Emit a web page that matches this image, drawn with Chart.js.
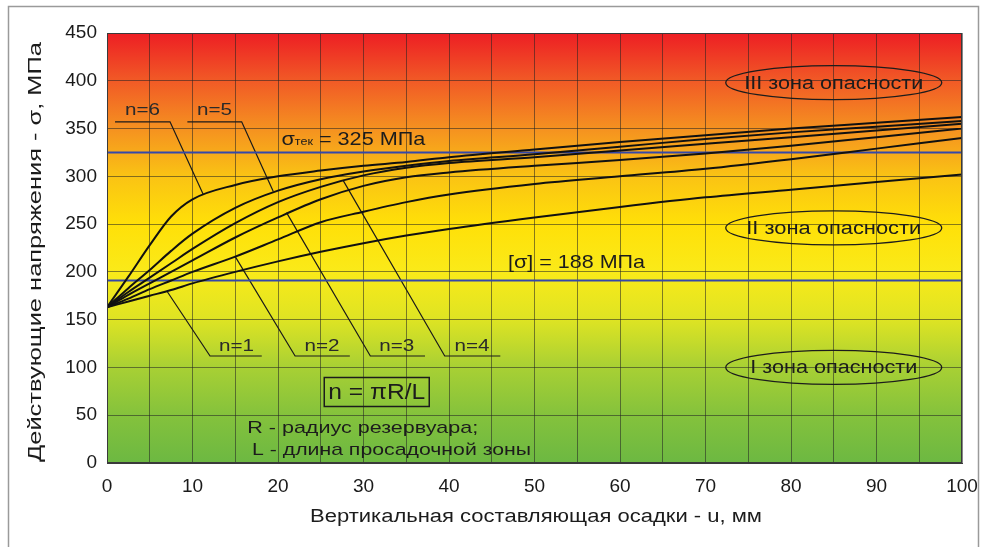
<!DOCTYPE html>
<html lang="ru">
<head>
<meta charset="UTF-8">
<title>Действующие напряжения</title>
<script src="https://cdn.jsdelivr.net/npm/chart.js@4.4.1/dist/chart.umd.min.js"></script>
<style>
  html, body { margin: 0; padding: 0; background: #fff; }
  canvas { display: block; }
</style>
</head>
<body>
<canvas id="myChart" width="982" height="547"></canvas>
<script>
// vertical settlement u, mm
const settlement = [0, 2.5, 5, 7.5, 10, 15, 20, 25, 30, 35, 40, 50, 60, 70, 80, 90, 100];
// acting stress, MPa, one curve per n = piR/L
const stressN1 = [163, 169, 175, 181, 188, 200, 211, 221, 230, 238, 245, 257, 268, 278, 286, 294, 302];
const stressN2 = [163, 172, 182, 191, 200, 216, 234, 252, 263, 273, 281, 292, 300, 308, 318, 329, 340];
const stressN3 = [163, 176, 188, 200, 212, 236, 257, 276, 290, 299, 304, 311, 317, 324, 332, 341, 350];
const stressN4 = [163, 179, 194, 209, 224, 251, 273, 289, 301, 309, 314, 320, 327, 334, 341, 348, 355];
const stressN5 = [163, 183, 202, 222, 240, 267, 285, 297, 305, 311, 316, 323, 331, 339, 346, 352, 358];
const stressN6 = [163, 195, 228, 258, 276, 291, 300, 306, 311, 315, 320, 328, 336, 343, 350, 356, 362];
const curveNames = ['n=1', 'n=2', 'n=3', 'n=4', 'n=5', 'n=6'];

const yieldStress = 325;   // sigma tek
const allowedStress = 191; // [sigma] line as drawn

// leader lines from each label to its curve, [u, sigma]
const leaderN1 = [[7.0, 180], [12.05, 112], [18.1, 112]];
const leaderN2 = [[15.0, 216], [22.0, 112], [28.4, 112]];
const leaderN3 = [[21.0, 262], [30.8, 112], [37.2, 112]];
const leaderN4 = [[27.6, 296], [39.5, 112], [46.0, 112]];
const leaderN5 = [[19.45, 284], [15.75, 357], [9.4, 357]];
const leaderN6 = [[11.26, 281], [7.37, 357], [0.94, 357]];
const labelSpots = [[15.15, 122], [25.15, 122], [33.9, 122], [42.7, 122], [12.57, 369], [4.15, 369]];

const zoneNames = ['III зона опасности', 'II зона опасности', 'I зона опасности'];
const zoneSpots = [[85, 398], [85, 246], [85, 100]];

const FONT = '"Liberation Sans", Arial, sans-serif';

function say(ctx, str, x, y, size, w, align) {
  ctx.save();
  ctx.font = size + 'px ' + FONT;
  ctx.textBaseline = 'middle';
  ctx.textAlign = align || 'center';
  const sx = w ? w / ctx.measureText(str).width : 1;
  ctx.translate(x, y);
  ctx.scale(sx, 1);
  ctx.fillText(str, 0, 0);
  ctx.restore();
}

// draw pieces [text, size] on one baseline, stretched to width w
function sayParts(ctx, parts, x, y, w) {
  ctx.save();
  ctx.textBaseline = 'alphabetic';
  ctx.textAlign = 'left';
  let total = 0;
  parts.forEach(p => { ctx.font = p[1] + 'px ' + FONT; total += ctx.measureText(p[0]).width; });
  ctx.translate(x, y);
  ctx.scale(w / total, 1);
  let cx = 0;
  parts.forEach(p => {
    ctx.font = p[1] + 'px ' + FONT;
    ctx.fillText(p[0], cx, 0);
    cx += ctx.measureText(p[0]).width;
  });
  ctx.restore();
}

const bgStops = [
  [450, 'rgb(237,30,36)'], [400, 'rgb(241,90,38)'], [350, 'rgb(245,145,32)'],
  [300, 'rgb(250,195,20)'], [250, 'rgb(255,224,8)'], [200, 'rgb(250,234,25)'],
  [150, 'rgb(222,228,35)'], [100, 'rgb(168,208,52)'], [50, 'rgb(132,194,60)'], [0, 'rgb(108,184,66)']
];

const decor = {
  id: 'decor',
  beforeDraw(chart) {
    const { ctx, chartArea: a, scales: { y } } = chart;
    const g = ctx.createLinearGradient(0, a.top, 0, a.bottom);
    bgStops.forEach(([v, c]) => g.addColorStop((y.getPixelForValue(v) - a.top) / (a.bottom - a.top), c));
    ctx.save();
    ctx.fillStyle = '#fff';
    ctx.fillRect(0, 0, chart.width, chart.height);
    ctx.fillStyle = g;
    ctx.fillRect(a.left, a.top, a.width, a.height);
    ctx.restore();
  },
  afterDraw(chart) {
    const { ctx, chartArea: a, scales: { x, y } } = chart;
    ctx.save();
    ctx.strokeStyle = '#3a3a3a';
    ctx.lineWidth = 1;
    ctx.strokeRect(a.left + 0.5, a.top + 0.5, a.width - 1, a.height - 1);
    ctx.strokeStyle = '#9a9a9a';
    ctx.lineWidth = 1.5;
    ctx.strokeRect(8.5, 6.5, 970, 560);

    ctx.fillStyle = '#1c1c1c';
    // axis titles
    say(ctx, 'Вертикальная составляющая осадки - u, мм', 536, 517, 18, 452);
    ctx.save();
    ctx.translate(36, 252);
    ctx.rotate(-Math.PI / 2);
    say(ctx, 'Действующие напряжения - σ, МПа', 0, 0, 18, 420);
    ctx.restore();

    // zones
    ctx.strokeStyle = '#1c1c1c';
    ctx.lineWidth = 1.3;
    const zoneW = [179, 175, 167];
    zoneSpots.forEach((s, i) => {
      const cx = x.getPixelForValue(s[0]), cy = y.getPixelForValue(s[1]);
      ctx.beginPath();
      ctx.ellipse(cx, cy, 108, 17, 0, 0, Math.PI * 2);
      ctx.stroke();
      say(ctx, zoneNames[i], cx, cy + 1, 18, zoneW[i]);
    });

    // curve labels
    ctx.fillStyle = '#2a2a2a';
    labelSpots.forEach((s, i) => {
      say(ctx, curveNames[i], x.getPixelForValue(s[0]), y.getPixelForValue(s[1]), 17, 35);
    });

    // stress limits
    ctx.fillStyle = '#1c1c1c';
    sayParts(ctx, [['σ', 19], ['тек', 11], [' = ' + yieldStress + ' МПа', 19]],
      x.getPixelForValue(20.4), y.getPixelForValue(332.8), 144);
    sayParts(ctx, [['[σ] = 188 МПа', 19]],
      x.getPixelForValue(46.9), y.getPixelForValue(203.7), 137);

    // formula
    const fx = x.getPixelForValue(31.55), fy = y.getPixelForValue(74.3);
    ctx.lineWidth = 1.5;
    ctx.strokeRect(fx - 52.5, fy - 14.5, 105, 29);
    say(ctx, 'n = πR/L', fx, fy + 1, 22, 97);
    say(ctx, 'R - радиус резервуара;', x.getPixelForValue(16.4), y.getPixelForValue(36.6), 17, 231, 'left');
    say(ctx, 'L - длина просадочной зоны', x.getPixelForValue(16.96), y.getPixelForValue(13.6), 17, 279, 'left');
    ctx.restore();
  }
};

const curves = [stressN1, stressN2, stressN3, stressN4, stressN5, stressN6].map((arr, i) => ({
  label: curveNames[i],
  data: settlement.map((u, k) => ({ x: u, y: arr[k] })),
  borderColor: '#111',
  borderWidth: 2,
  cubicInterpolationMode: 'monotone',
  pointRadius: 0
}));

const refLines = [yieldStress, allowedStress].map(v => ({
  label: 'limit ' + v,
  data: [{ x: 0, y: v }, { x: 100, y: v }],
  borderColor: 'rgb(52,72,170)',
  borderWidth: 2,
  pointRadius: 0
}));

const leaders = [leaderN1, leaderN2, leaderN3, leaderN4, leaderN5, leaderN6].map((pts, i) => ({
  label: 'leader ' + curveNames[i],
  data: pts.map(p => ({ x: p[0], y: p[1] })),
  borderColor: '#1a1a1a',
  borderWidth: 1.2,
  tension: 0,
  pointRadius: 0
}));

const tickFont = { family: FONT, size: 19 };

new Chart(document.getElementById('myChart').getContext('2d'), {
  type: 'line',
  data: { datasets: [...curves, ...refLines, ...leaders] },
  options: {
    responsive: false,
    animation: false,
    devicePixelRatio: 1,
    layout: { padding: { top: 33, right: 20, left: 0, bottom: 0 } },
    plugins: { legend: { display: false }, tooltip: { enabled: false } },
    scales: {
      x: {
        type: 'linear', min: 0, max: 100,
        afterFit: s => { s.height = 84; },
        ticks: {
          stepSize: 5, autoSkip: false, maxRotation: 0, padding: 2,
          color: '#1a1a1a', font: tickFont,
          callback: v => (v % 10 === 0 ? v : '')
        },
        grid: { color: 'rgba(35,35,35,0.55)', lineWidth: 1, drawTicks: true, tickLength: 10, tickColor: 'rgba(0,0,0,0)' },
        border: { color: '#3a3a3a' }
      },
      y: {
        min: 0, max: 450,
        afterFit: s => { s.width = 107; },
        ticks: { stepSize: 50, padding: 10, color: '#1a1a1a', font: tickFont },
        grid: { color: 'rgba(35,35,35,0.55)', lineWidth: 1, drawTicks: false },
        border: { color: '#3a3a3a' }
      }
    }
  },
  plugins: [decor]
});
</script>
</body>
</html>
